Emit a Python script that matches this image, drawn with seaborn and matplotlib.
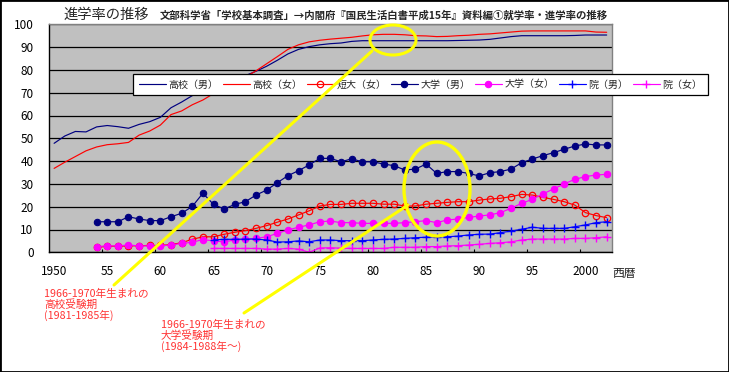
import matplotlib
matplotlib.use('Agg')
import matplotlib.pyplot as plt
import seaborn as sns
import numpy as np
import pandas as pd
from matplotlib.patches import Ellipse, Rectangle
from matplotlib.lines import Line2D

# ---------------- data ----------------
years_hs = list(range(1950, 2003))
years_univ = list(range(1954, 2003))
years_grad = list(range(1965, 2003))

hs_male = [47.8, 51.0, 53.0, 52.8, 55.0, 55.6, 55.1, 54.4, 56.1, 57.3,
           59.2, 63.4, 65.9, 68.7, 70.6, 71.7, 73.5, 75.5, 77.5, 79.4,
           81.6, 84.2, 87.0, 89.0, 90.2, 91.0, 91.5, 91.8, 92.5, 92.8,
           92.8, 92.8, 92.8, 92.8, 92.8, 92.8, 92.8, 92.8, 92.9, 93.0,
           93.1, 93.4, 94.0, 94.6, 95.0, 95.0, 95.0, 95.0, 95.0, 95.1,
           95.3, 95.3, 95.3]
hs_female = [36.8, 39.5, 42.0, 44.5, 46.2, 47.2, 47.6, 48.2, 51.4, 53.2,
             55.8, 60.4, 62.0, 64.7, 66.8, 69.6, 71.5, 74.0, 76.8, 79.6,
             82.7, 85.8, 89.0, 91.0, 92.3, 93.0, 93.5, 93.9, 94.3, 94.9,
             95.4, 95.6, 95.6, 95.4, 95.0, 94.9, 94.6, 94.7, 95.0, 95.2,
             95.6, 95.8, 96.2, 96.6, 97.0, 97.1, 97.1, 97.1, 97.1, 97.1,
             97.1, 96.6, 96.5]
jc_female = [2.2, 2.6, 2.7, 2.8, 2.9, 3.0, 3.0, 3.4, 4.2, 5.7,
             6.8, 6.8, 7.9, 8.8, 9.5, 10.5, 11.7, 13.2, 14.6, 16.4,
             18.2, 20.3, 21.0, 21.0, 21.5, 21.5, 21.5, 21.1, 21.1, 20.3,
             20.3, 21.1, 21.5, 21.9, 22.2, 22.2, 22.9, 23.4, 23.7, 24.4,
             25.4, 25.1, 24.1, 23.2, 22.2, 20.7, 17.4, 16.1, 15.2]
univ_male = [13.4, 13.4, 13.4, 15.6, 14.6, 13.9, 13.9, 15.6, 17.1, 20.1,
             25.9, 21.0, 19.0, 21.0, 22.2, 25.1, 27.3, 30.5, 33.6, 35.8,
             38.3, 41.2, 41.2, 39.7, 41.0, 39.7, 39.7, 38.7, 38.0, 36.1,
             36.5, 38.7, 34.6, 35.4, 35.4, 34.6, 33.5, 34.9, 35.4, 36.5,
             39.3, 40.9, 42.4, 43.7, 45.2, 46.6, 47.5, 47.1, 47.1]
univ_female = [2.5, 2.8, 2.8, 3.2, 2.8, 2.8, 2.8, 3.2, 3.9, 4.4,
               5.6, 5.0, 4.6, 5.4, 5.7, 6.1, 6.8, 8.3, 9.8, 11.0,
               12.0, 13.4, 13.7, 13.0, 13.0, 12.7, 12.7, 12.7, 12.7, 13.0,
               13.4, 13.9, 13.0, 14.2, 14.6, 15.3, 15.9, 16.4, 17.4, 19.3,
               21.5, 23.2, 25.6, 27.8, 30.0, 32.0, 33.2, 33.9, 34.2]
grad_male = [5.4, 5.7, 5.7, 5.8, 5.8, 5.4, 4.5, 4.6, 5.0, 4.6,
             5.4, 5.4, 5.1, 5.1, 5.1, 5.4, 5.7, 5.8, 6.1, 6.4,
             6.6, 6.8, 6.8, 7.1, 7.6, 7.9, 8.0, 8.6, 9.3, 10.1,
             11.0, 10.5, 10.5, 10.5, 11.2, 12.0, 13.0, 13.4]
grad_female = [1.7, 1.7, 1.7, 1.7, 1.7, 1.4, 1.4, 1.7, 1.4, 0.0,
               1.9, 2.0, 1.8, 1.7, 1.7, 1.7, 1.7, 2.2, 2.2, 2.2,
               2.5, 2.5, 2.8, 2.9, 3.2, 3.5, 3.9, 4.2, 4.6, 5.4,
               5.8, 5.8, 5.8, 5.8, 6.1, 6.1, 6.4, 6.8]

series_labels = ["高校（男）", "高校（女）", "短大（女）", "大学（男）", "大学（女）", "院（男）", "院（女）"]
xtick_years = [1950, 1955, 1960, 1965, 1970, 1975, 1980, 1985, 1990, 1995, 2000]
xtick_labels = ["1950", "55", "60", "65", "70", "75", "80", "85", "90", "95", "2000"]
ytick_values = list(range(0, 101, 10))

title_text = "進学率の推移"
subtitle_text = "文部科学省「学校基本調査」→内閣府『国民生活白書平成15年』資料編①就学率・進学率の推移"
note1 = ["1966-1970年生まれの", "高校受験期", "(1981-1985年)"]
note2 = ["1966-1970年生まれの", "大学受験期", "(1984-1988年〜)"]

# ---------------- figure ----------------
sns.set_theme(style='white')
plt.rcParams['font.family'] = ['Noto Sans CJK JP', 'DejaVu Sans']

W, H = 729, 372
fig = plt.figure(figsize=(W / 100, H / 100), dpi=100)
fig.patch.set_facecolor('white')


def fx(px):
    return px / W


def fy(py):
    return 1 - py / H


L, R, T, B = 48.8, 612, 24.3, 252.3
ax = fig.add_axes([fx(L), fy(B), fx(R) - fx(L), fy(T) - fy(B)])
ax.set_facecolor('#C0C0C0')

styles = [
    (years_hs, hs_male, dict(color='#000080')),
    (years_hs, hs_female, dict(color='#FF0000')),
    (years_univ, jc_female, dict(color='#FF0000', marker='o', markersize=4.6,
                                 markerfacecolor='none', markeredgecolor='#FF0000',
                                 markeredgewidth=0.9)),
    (years_univ, univ_male, dict(color='#000080', marker='o', markersize=4.6,
                                 markerfacecolor='#000080', markeredgecolor='#000080',
                                 markeredgewidth=0.8)),
    (years_univ, univ_female, dict(color='#FF00FF', marker='o', markersize=4.6,
                                   markerfacecolor='#FF00FF', markeredgecolor='#FF00FF',
                                   markeredgewidth=0.8)),
    (years_grad, grad_male, dict(color='#0000FF', marker='+', markersize=5.5,
                                 markeredgecolor='#0000FF', markeredgewidth=1.0)),
    (years_grad, grad_female, dict(color='#FF00FF', marker='+', markersize=5.5,
                                   markeredgecolor='#FF00FF', markeredgewidth=1.0)),
]

for label, (xs, ys, kw) in zip(series_labels, styles):
    df = pd.DataFrame({"year": xs, "rate": ys})
    sns.lineplot(data=df, x="year", y="rate", ax=ax, label=label,
                 estimator=None, sort=False, linewidth=0.85, **kw)

handles, labels = ax.get_legend_handles_labels()
if ax.get_legend() is not None:
    ax.get_legend().remove()

ax.set_xlim(1949.5, 2002.5)
ax.set_ylim(0, 100)
ax.set_xlabel("")
ax.set_ylabel("")
ax.set_axisbelow(True)

ax.set_yticks(ytick_values)
ax.set_yticklabels([str(v) for v in ytick_values])
ax.yaxis.grid(True, color='black', linewidth=0.9)
ax.xaxis.grid(False)
ax.tick_params(axis='y', length=0, pad=11, labelsize=8.5, labelcolor='black')

ax.set_xticks(xtick_years)
ax.set_xticklabels(xtick_labels)
ax.set_xticks([y - 0.5 for y in xtick_years[1:]], minor=True)
ax.tick_params(axis='x', which='major', length=0, pad=9, labelsize=8.5, labelcolor='black')
ax.tick_params(axis='x', which='minor', direction='in', length=2.5, width=0.8,
               color='black', bottom=True)

for s in ['left', 'bottom']:
    ax.spines[s].set_color('black')
    ax.spines[s].set_linewidth(1.0)
for s in ['top', 'right']:
    ax.spines[s].set_color('#808080')
    ax.spines[s].set_linewidth(1.0)

fig.text(fx(612), fy(273), "西暦", fontsize=8.5, ha='left', va='center')

leg = fig.legend(handles, labels, ncol=7, loc='center left',
                 bbox_to_anchor=(fx(133), fy(84.5)), frameon=True, fancybox=False,
                 edgecolor='black', framealpha=1, facecolor='white', fontsize=7.2,
                 handlelength=2.7, handletextpad=0.3, columnspacing=0.4,
                 borderpad=0.55, borderaxespad=0)
leg.get_frame().set_linewidth(0.9)
leg.set_zorder(5)

# title
fig.text(fx(63), fy(15), title_text, fontsize=10.3, ha='left', va='center')
fig.text(fx(160), fy(16), subtitle_text, fontsize=7.5, ha='left', va='center',
         fontweight='bold')

# yellow annotations
yel = '#FFFF00'
fig.add_artist(Line2D([fx(114), fx(372)], [fy(285), fy(51)], transform=fig.transFigure,
                      color=yel, lw=2.2, zorder=10))
fig.add_artist(Line2D([fx(244), fx(408)], [fy(313), fy(205)], transform=fig.transFigure,
                      color=yel, lw=2.2, zorder=10))
fig.add_artist(Ellipse((fx(393), fy(40)), width=46 / W, height=30 / H,
                       transform=fig.transFigure, fill=False, edgecolor=yel,
                       lw=2.2, zorder=10))
fig.add_artist(Ellipse((fx(437), fy(189)), width=66 / W, height=94 / H,
                       transform=fig.transFigure, fill=False, edgecolor=yel,
                       lw=2.4, zorder=10))

# red notes
red_txt = '#FF3333'
for i, line in enumerate(note1):
    fig.text(fx(44), fy(294.3 + i * 10.6), line, fontsize=7.7, color=red_txt,
             ha='left', va='center')
for i, line in enumerate(note2):
    fig.text(fx(160.5), fy(325 + i * 10.6), line, fontsize=7.7, color=red_txt,
             ha='left', va='center')

# outer frame
fig.add_artist(Rectangle((0, 0), 1, 1, transform=fig.transFigure, fill=False,
                         edgecolor='black', lw=2, zorder=20))

fig.savefig('out.png', dpi=100)
